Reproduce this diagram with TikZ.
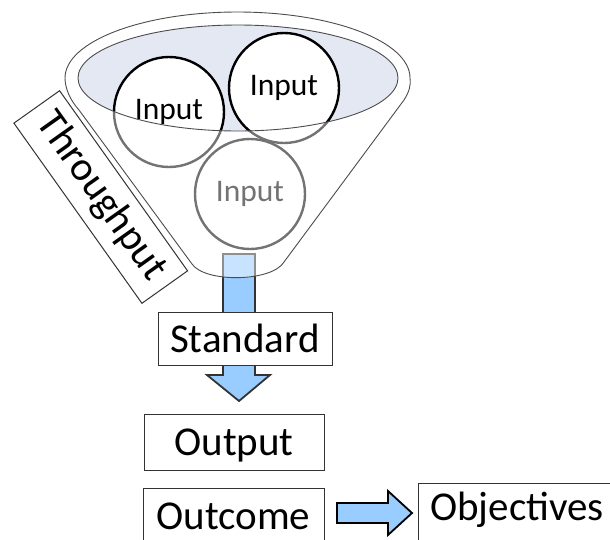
\documentclass[tikz,border=0pt]{standalone}
\usepackage{fontspec}
\setmainfont{Carlito}
\definecolor{arrowblue}{RGB}{153,204,255}
\definecolor{rimfill}{RGB}{227,232,243}
\newcommand\funnelpath{%
  (65,78) arc[start angle=180, end angle=360, x radius=172.5, y radius=66]
  .. controls (411,86) and (409,92) .. (404,100)
  -- (284,262) .. controls (272,282) and (205,283) .. (192,264)
  -- (79,110) .. controls (70,100) and (65,88) .. (65,78) -- cycle}
\begin{document}
\begin{tikzpicture}[x=1pt,y=-1pt,
  bigtext/.style={font=\fontsize{41}{48}\selectfont, inner sep=0pt,
    text height=26pt, text depth=0pt},
  boxed/.style={draw=black!80, line width=1pt, fill=white},
  inputball/.style={circle, draw=black, line width=2.4pt, fill=white,
    minimum size=110pt, inner sep=0pt, font=\fontsize{31.5}{36}\selectfont},
  blockarrow/.style={fill=arrowblue, draw=black!80, line width=1.8pt, line join=miter},
  rim/.style={draw=black!70, line width=0.9pt}]
\path[use as bounding box, clip] (0,0) rectangle (610,539);

% funnel body and rim
\path[fill=white] \funnelpath;
\fill[rimfill] (238,78) ellipse[x radius=160, y radius=53];

% the three inputs
\node[inputball] (in1) at (169,112) {Input};
\node[inputball] (in2) at (284,88) {Input};
\node[inputball] (in3) at (250,194) {Input};

% flow out of the funnel
\draw[blockarrow] (223,254) -- (255,254) -- (255,375) -- (270,375)
  -- (239,401) -- (207,375) -- (223,375) -- cycle;

% translucent front of the funnel
\fill[white, opacity=0.45, even odd rule] \funnelpath
  (238,78) ellipse[x radius=160, y radius=53];
\path[rim] \funnelpath;
\draw[rim] (238,78) ellipse[x radius=160, y radius=53];

% side label
\node[boxed, bigtext, rotate=-54.6, minimum width=221pt, minimum height=56pt,
  text depth=8pt, text height=28pt] (thru) at (100.75,197) {Throughput};

% results
\node[boxed, bigtext, minimum width=174pt, minimum height=53pt] (std) at (245,339) {Standard};
\node[boxed, bigtext, minimum width=180pt, minimum height=56pt] (out) at (234,442) {Output};
\node[boxed, anchor=north west, minimum width=181pt, minimum height=70pt] (outcbox) at (143,488) {};
\node[bigtext] (outc) at (233.5,516) {Outcome};
\node[boxed, anchor=north west, minimum width=240pt, minimum height=80pt] (objbox) at (418,483) {};
\node[bigtext] (obj) at (517,507) {Objectives};

\draw[blockarrow, draw=black] (337,503) -- (388,503) -- (388,491) -- (412,513)
  -- (388,535) -- (388,523) -- (337,523) -- cycle;
\end{tikzpicture}
\end{document}
